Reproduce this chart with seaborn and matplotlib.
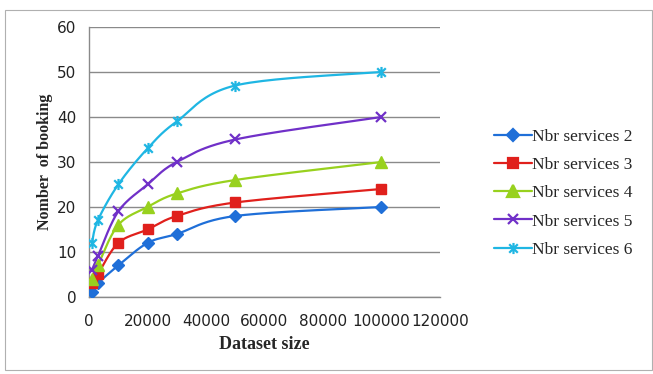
import numpy as np
import pandas as pd
import seaborn as sns

import matplotlib
matplotlib.use("Agg")

import matplotlib.pyplot as plt
from matplotlib.lines import Line2D
from matplotlib.path import Path
from matplotlib.patches import Rectangle

# Data
dataset_size = [1000, 3000, 10000, 20000, 30000, 50000, 100000]
nbr2 = [1, 3, 7, 12, 14, 18, 20]
nbr3 = [3, 5, 12, 15, 18, 21, 24]
nbr4 = [4, 7, 16, 20, 23, 26, 30]
nbr5 = [6, 9, 19, 25, 30, 35, 40]
nbr6 = [12, 17, 25, 33, 39, 47, 50]

series_names = ["Nbr services 2", "Nbr services 3", "Nbr services 4",
                "Nbr services 5", "Nbr services 6"]
series_values = [nbr2, nbr3, nbr4, nbr5, nbr6]

colors = ["#1f6fd8", "#e0201c", "#98d11e", "#7030c8", "#1fb6e3"]

# asterisk marker (x with a vertical bar), like Excel's star
star = Path(
    [(-1, -1), (1, 1), (-1, 1), (1, -1), (0, -1.3), (0, 1.3)],
    [Path.MOVETO, Path.LINETO, Path.MOVETO, Path.LINETO, Path.MOVETO, Path.LINETO],
)
markers = ["D", "s", "^", "x", star]
msizes = [6, 7, 8, 7, 8]


def smooth(xs, ys, xmax=120000, ymax=60, n=25):
    # Excel-like smoothed line: bezier with catmull-rom control points
    sx, sy = 351 / xmax, 270 / ymax
    pts = np.c_[np.array(xs) * sx, np.array(ys) * sy]
    ext = np.vstack([pts[0], pts, pts[-1]])
    t = np.linspace(0, 1, n)[:, None]
    segs = []
    for i in range(len(pts) - 1):
        p0, p1, p2, p3 = ext[i], ext[i + 1], ext[i + 2], ext[i + 3]
        c1 = p1 + (p2 - p0) / 6
        c2 = p2 - (p3 - p1) / 6
        segs.append((1 - t) ** 3 * p1 + 3 * (1 - t) ** 2 * t * c1
                    + 3 * (1 - t) * t ** 2 * c2 + t ** 3 * p2)
    out = np.vstack(segs)
    return out[:, 0] / sx, out[:, 1] / sy


sns.set_style("white")
plt.rcParams["font.family"] = ["DejaVu Sans"]

fig = plt.figure(figsize=(6.53, 3.74), dpi=100)
ax = fig.add_axes([0.1363, 0.2059, 0.5375, 0.7219])

# outer frame
fig.patches.append(Rectangle((0.008, 0.012), 0.99, 0.96, transform=fig.transFigure,
                             fill=False, edgecolor="#b0b0b0", lw=0.8))

for name, vals, c, m, ms in zip(series_names, series_values, colors, markers, msizes):
    cx, cy = smooth(dataset_size, vals)
    curve = pd.DataFrame({"x": cx, "y": cy})
    sns.lineplot(data=curve, x="x", y="y", ax=ax, color=c, lw=1.6,
                 sort=False, estimator=None, zorder=3)
    pts = pd.DataFrame({"x": dataset_size, "y": vals})
    ax.plot(pts["x"], pts["y"], ls="none", marker=m, ms=ms, color=c,
            mec=c, mew=1.6 if (m is star or m == "x") else 1, zorder=4)

ax.set_xlim(0, 120000)
ax.set_ylim(0, 60)
ax.set_xticks(range(0, 120001, 20000))
ax.set_yticks(range(0, 61, 10))
ax.yaxis.grid(True, color="#8a8a8a", lw=1)
ax.set_axisbelow(True)

for s in ["top", "right"]:
    ax.spines[s].set_visible(False)
for s in ["left", "bottom"]:
    ax.spines[s].set_color("#8a8a8a")
    ax.spines[s].set_linewidth(1)

ax.tick_params(axis="both", direction="out", length=5, color="#8a8a8a",
               labelsize=11, labelcolor="#222222", pad=4)
ax.tick_params(axis="x", pad=7)
for lab in ax.get_xticklabels() + ax.get_yticklabels():
    lab.set_fontfamily("DejaVu Sans")

ax.set_xlabel("Dataset size", fontfamily="Liberation Serif", fontweight="bold",
              fontsize=13, labelpad=5)
ax.set_ylabel("Nomber  of booking", fontfamily="Liberation Serif", fontweight="bold",
              fontsize=11.5, labelpad=3)

handles = [Line2D([0], [0], color=c, lw=1.6, marker=m, ms=ms, mew=1.6, mec=c)
           for c, m, ms in zip(colors, markers, msizes)]
fig.legend(handles, series_names, loc="center left", bbox_to_anchor=(0.732, 0.483),
           frameon=False, prop={"family": "Liberation Serif", "size": 12.5},
           handlelength=2.2, handletextpad=0.0, labelspacing=0.69)

fig.savefig("out.png", dpi=100)
